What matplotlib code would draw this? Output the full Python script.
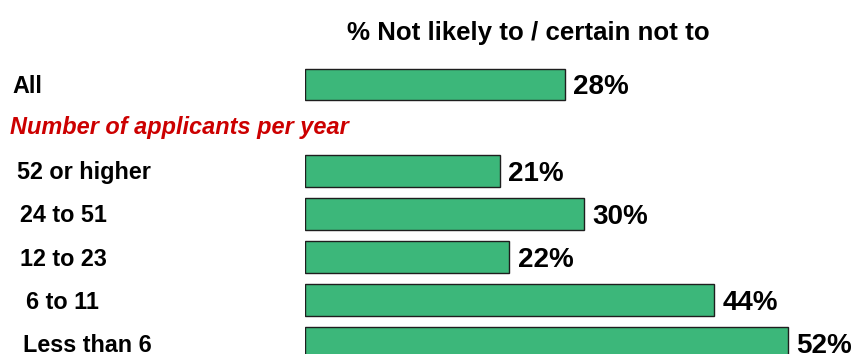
import matplotlib.pyplot as plt
from matplotlib.transforms import blended_transform_factory

plt.rcParams['font.family'] = ['Liberation Sans', 'DejaVu Sans']

# Share answering "not likely to / certain not to", overall and by applicant volume
categories = ["All", "52 or higher", "24 to 51", "12 to 23", "6 to 11", "Less than 6"]
values = [28, 21, 30, 22, 44, 52]
rows = [0, 2, 3, 4, 5, 6]          # row 1 holds the group heading
group_heading = "Number of applicants per year"
title = "% Not likely to / certain not to"

# left edge of each category label, in figure pixels
label_x = [12, 17, 20, 20, 26, 23]

W, H = 855, 354
fig = plt.figure(figsize=(W / 100, H / 100), dpi=100)
ax = fig.add_axes([305 / W, 0, (816 - 305) / W, 1])

ax.barh(rows, values, height=0.74, color="#3cb77a", edgecolor="#1e1e1e", linewidth=1.0)
ax.set_xlim(0, 55)
ax.set_ylim(6.253, -1.96)
ax.axis("off")

for r, v in zip(rows, values):
    ax.annotate(f"{v}%", xy=(v, r + 0.07), xytext=(6, 0), textcoords="offset points",
                va="center", ha="left", fontsize=20, fontweight="bold")

trans = blended_transform_factory(fig.transFigure, ax.transData)
for r, name, lx in zip(rows, categories, label_x):
    ax.text(lx / W, r + 0.05, name, transform=trans, ha="left", va="center",
            fontsize=16.8, fontweight="bold")

ax.text(10 / W, 1, group_heading, transform=trans, ha="left", va="center",
        fontsize=16.9, fontweight="bold", style="italic", color="#cc0000")

fig.text(528 / W, 1 - 33 / H, title, ha="center", va="center",
         fontsize=18.6, fontweight="bold")

fig.savefig("out.png", dpi=100)
